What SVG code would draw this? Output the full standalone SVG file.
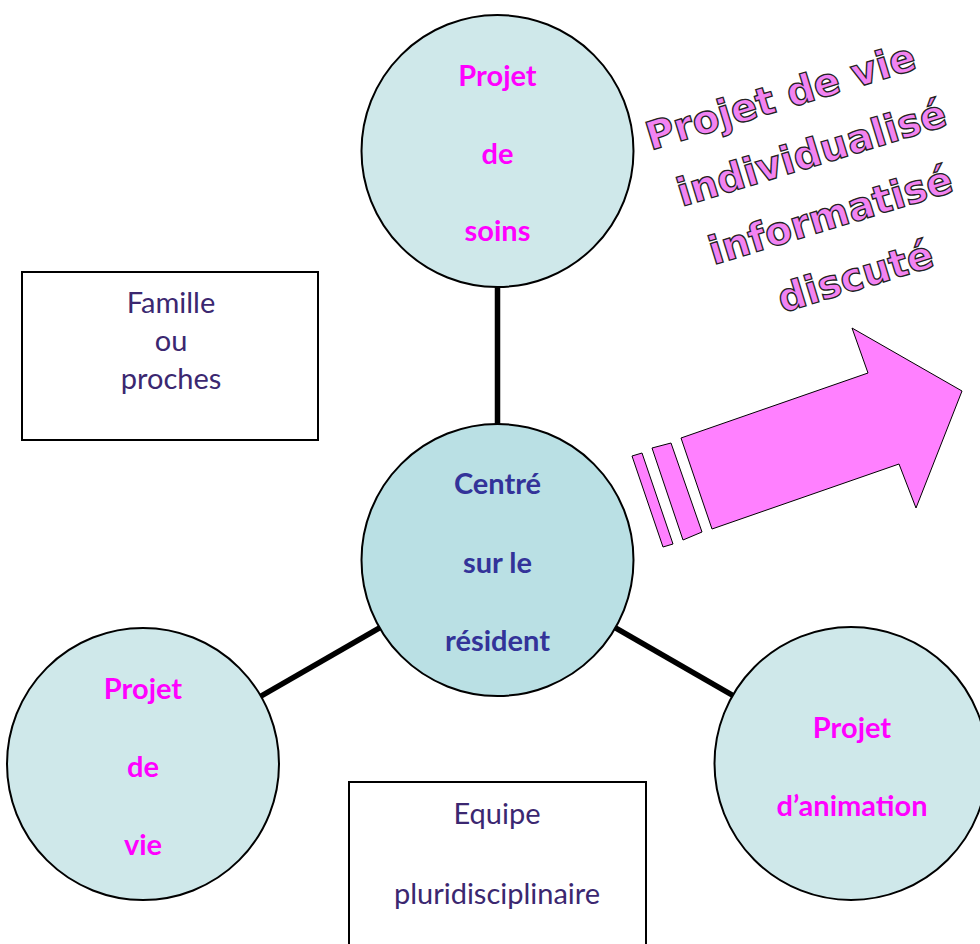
<svg xmlns="http://www.w3.org/2000/svg" width="980" height="944" viewBox="0 0 980 944">
<style>
.circ{fill:#CFE8EA;stroke:#000;stroke-width:2}
.center{fill:#BAE0E4;stroke:#000;stroke-width:2}
.mag{font-family:Lato,"Liberation Sans",sans-serif;font-weight:bold;font-size:29px;fill:#FF00FF;text-anchor:middle}
.blue{font-family:Lato,"Liberation Sans",sans-serif;font-weight:bold;font-size:29px;fill:#333399;text-anchor:middle}
.box{fill:#fff;stroke:#000;stroke-width:2}
.btxt{font-family:Lato,"Liberation Sans",sans-serif;font-size:29px;fill:#3B2770;text-anchor:middle}
.conn{stroke:#000;stroke-width:5.5;fill:none}
.arrow{fill:#FF80FF;stroke:#000;stroke-width:1}
.wa{font-family:"DejaVu Sans","Liberation Sans",sans-serif;font-weight:bold;font-size:39px;fill:#F283F2;stroke:#222;stroke-width:1.3;text-anchor:middle}
</style>
<rect width="980" height="944" fill="#fff"/>
<g id="connectors">
<line class="conn" x1="497.5" y1="151" x2="497.5" y2="560"/>
<line class="conn" x1="497.5" y1="560" x2="143" y2="764"/>
<line class="conn" x1="497.5" y1="560" x2="851" y2="763.5"/>
</g>
<g id="soins">
<circle class="circ" cx="497.5" cy="151" r="136"/>
<text class="mag" x="497.5" y="86">Projet</text>
<text class="mag" x="497.5" y="164">de</text>
<text class="mag" x="497.5" y="241">soins</text>
</g>
<g id="resident">
<circle class="center" cx="497.5" cy="560" r="136"/>
<text class="blue" x="497.5" y="494">Centré</text>
<text class="blue" x="497.5" y="573">sur le</text>
<text class="blue" x="497.5" y="651">résident</text>
</g>
<g id="vie">
<circle class="circ" cx="143" cy="764" r="136"/>
<text class="mag" x="143" y="699">Projet</text>
<text class="mag" x="143" y="777">de</text>
<text class="mag" x="143" y="855">vie</text>
</g>
<g id="animation">
<circle class="circ" cx="851" cy="763.5" r="136.5"/>
<text class="mag" x="852" y="738">Projet</text>
<text class="mag" x="852" y="816">d’animation</text>
</g>
<g id="famille">
<rect class="box" x="22" y="272" width="296" height="168"/>
<text class="btxt" x="171" y="313">Famille</text>
<text class="btxt" x="171" y="351">ou</text>
<text class="btxt" x="171" y="389">proches</text>
</g>
<g id="equipe">
<rect class="box" x="349" y="782" width="297" height="180"/>
<text class="btxt" x="497" y="824">Equipe</text>
<text class="btxt" x="497" y="904">pluridisciplinaire</text>
</g>
<g id="arrow">
<polygon class="arrow" points="681,438 868,373 852,328 962,391 916,508 899,464 712,529"/>
<polygon class="arrow" points="652,448 671,443 702,532 683,540"/>
<polygon class="arrow" points="632,456 642,453 673,544 663,547"/>
</g>
<g id="wordart" transform="translate(818,185) rotate(-17)">
<text class="wa" x="-10" y="-82">Projet de vie</text>
<text class="wa" x="3" y="-19">individualisé</text>
<text class="wa" x="3" y="46">informatisé</text>
<text class="wa" x="9" y="112">discuté</text>
</g>
</svg>
